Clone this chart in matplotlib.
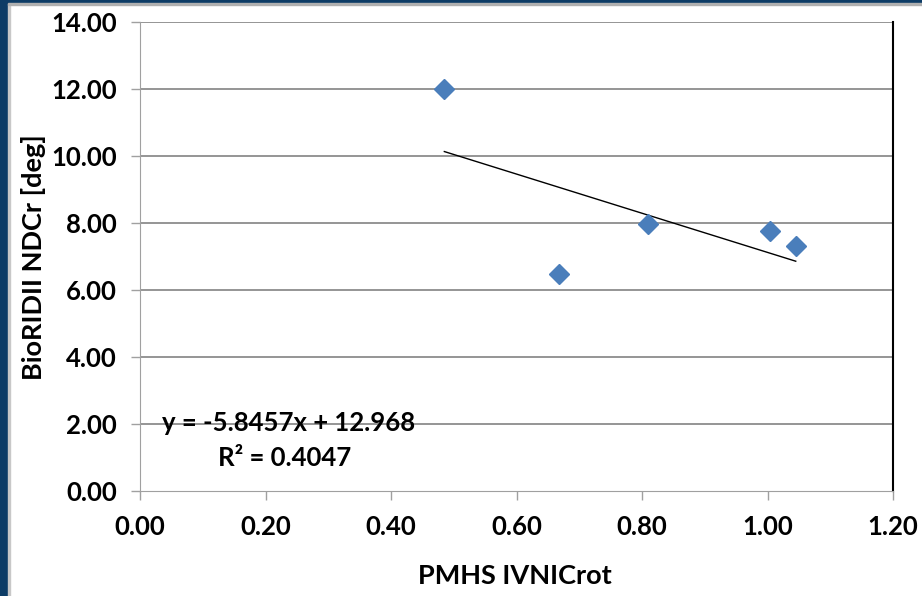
import matplotlib
matplotlib.use("Agg")
import matplotlib.pyplot as plt
from matplotlib.patches import Rectangle
import numpy as np

plt.rcParams['font.family'] = ['Lato', 'DejaVu Sans']

pmhs_x = [0.485, 0.667, 0.810, 1.004, 1.045]
biorid_y = [12.00, 6.48, 7.97, 7.76, 7.32]
slope = -5.8457
intercept = 12.968
r2 = 0.4047
xticks = [0.0, 0.2, 0.4, 0.6, 0.8, 1.0, 1.2]
yticks = [0, 2, 4, 6, 8, 10, 12, 14]

W, H = 922, 596
fig = plt.figure(figsize=(W / 100, H / 100), dpi=100)
fig.patch.set_facecolor('white')

# frame decoration
navy = '#0d3c66'
fig.add_artist(Rectangle((0, 0), 8 / W, 1, transform=fig.transFigure, color=navy, zorder=0))
fig.add_artist(Rectangle((8 / W, 0), 2 / W, 1, transform=fig.transFigure, color='#c8c8c8', zorder=0))
fig.add_artist(Rectangle((0, 1 - 3 / H), 1, 3 / H, transform=fig.transFigure, color=navy, zorder=0))
fig.add_artist(Rectangle((8 / W, 1 - 5 / H), 1, 2 / H, transform=fig.transFigure, color='#b0b0b0', zorder=0))

L, R, T, B = 140, 893, 22, 491
ax = fig.add_axes([L / W, 1 - B / H, (R - L) / W, (B - T) / H])
ax.set_xlim(0, 1.2)
ax.set_ylim(0, 14)
ax.set_xticks(xticks)
ax.set_yticks(yticks)
ax.set_xticklabels([f"{v:.2f}" for v in xticks])
ax.set_yticklabels([f"{v:.2f}" for v in yticks])

for y in yticks[1:]:
    ax.axhline(y, color='#8c8c8c', lw=1.3, zorder=1)

ax.spines['left'].set_color('#a0a0a0')
ax.spines['bottom'].set_color('#a0a0a0')
ax.spines['top'].set_visible(False)
ax.spines['right'].set_color('black')
ax.spines['right'].set_linewidth(1.5)
ax.tick_params(axis='both', direction='out', length=6.5, width=1, color='#a0a0a0',
               labelsize=18.5)
ax.tick_params(axis='y', pad=10)
ax.tick_params(axis='x', pad=11)
for lab in ax.get_xticklabels() + ax.get_yticklabels():
    lab.set_fontweight('bold')

xs = np.array([min(pmhs_x), max(pmhs_x)])
ax.plot(xs, slope * xs + intercept, color='black', lw=1, zorder=3)
ax.plot(pmhs_x, biorid_y, linestyle='none', marker='D', markersize=10.5,
        color='#4a7ebb', zorder=4, clip_on=False)

ax.text(0.035, 2.03, f"y = {slope}x + {intercept}", fontsize=18.5, fontweight='bold',
        ha='left', va='center', zorder=5)
ax.text(0.124, 0.98, f"R² = {r2}", fontsize=18.5, fontweight='bold',
        ha='left', va='center', zorder=5)

fig.text(515 / W, 1 - 576 / H, "PMHS IVNICrot", fontsize=19.5, fontweight='bold',
         ha='center', va='center')
fig.text(34 / W, 1 - 257 / H, "BioRIDII NDCr [deg]", fontsize=19.5, fontweight='bold',
         ha='center', va='center', rotation=90)

fig.savefig('out.png', dpi=100)
